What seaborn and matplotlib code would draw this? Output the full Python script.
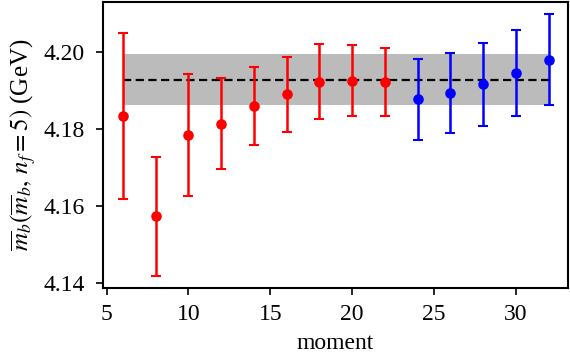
import numpy as np
import pandas as pd
import matplotlib
matplotlib.use("Agg")
import matplotlib.pyplot as plt
import seaborn as sns

moments_red = [6, 8, 10, 12, 14, 16, 18, 20, 22]
mass_red = [4.1833, 4.1573, 4.1784, 4.1813, 4.1860, 4.1889, 4.1922, 4.1925, 4.1922]
err_red = [0.0214, 0.0153, 0.0157, 0.0118, 0.0101, 0.0098, 0.0097, 0.0092, 0.0088]

moments_blue = [24, 26, 28, 30, 32]
mass_blue = [4.1876, 4.1893, 4.1915, 4.1944, 4.1979]
err_blue = [0.0104, 0.0104, 0.0107, 0.0112, 0.0118]

avg_value = 4.1927
band_low = 4.1861
band_high = 4.1993
band_x = [6, 32]

sns.set_style("ticks")
plt.rcParams["font.family"] = ["Liberation Serif", "DejaVu Serif"]
plt.rcParams["mathtext.fontset"] = "stix"
plt.rcParams["text.color"] = "black"
plt.rcParams["axes.labelcolor"] = "black"
plt.rcParams["xtick.color"] = "black"
plt.rcParams["ytick.color"] = "black"

df_red = pd.DataFrame({"moment": moments_red, "mass": mass_red, "err": err_red})
df_blue = pd.DataFrame({"moment": moments_blue, "mass": mass_blue, "err": err_blue})

fig = plt.figure(figsize=(5.7, 3.64), dpi=100)
ax = fig.add_axes([0.180, 0.208, 0.817, 0.787])

ax.fill_between(band_x, [band_low] * 2, [band_high] * 2, color="#bbbbbb", lw=0, zorder=1)
ax.plot(band_x, [avg_value] * 2, color="black", ls=(0, (3.7, 2.0)), lw=1.6, zorder=2)

for df, col in [(df_red, "red"), (df_blue, "blue")]:
    ax.errorbar(df["moment"], df["mass"], yerr=df["err"], fmt="none", ecolor=col,
                elinewidth=1.8, capsize=3.3, capthick=1.5, zorder=3)
    sns.scatterplot(data=df, x="moment", y="mass", color=col, s=58, edgecolor=col,
                    linewidth=0, ax=ax, zorder=4)

ax.set_xlim(4.76, 33.2)
ax.set_ylim(4.1387, 4.2129)
ax.set_xticks([5, 10, 15, 20, 25, 30])
ax.set_yticks([4.14, 4.16, 4.18, 4.20])
ax.set_yticklabels(["4.14", "4.16", "4.18", "4.20"])
ax.set_xlabel("moment", fontsize=17, labelpad=5.5)
ax.set_ylabel(r"$\overline{m}_b(\overline{m}_b,\, n_f=5)$ (GeV)", fontsize=18, labelpad=4)
ax.tick_params(axis="both", direction="out", length=5, width=1.2, labelsize=17,
               top=False, right=False)
ax.tick_params(axis="y", pad=8)
ax.tick_params(axis="x", pad=6.5)
for sp in ax.spines.values():
    sp.set_visible(True)
    sp.set_linewidth(1.5)
    sp.set_color("black")

fig.savefig("out.png", dpi=100)
